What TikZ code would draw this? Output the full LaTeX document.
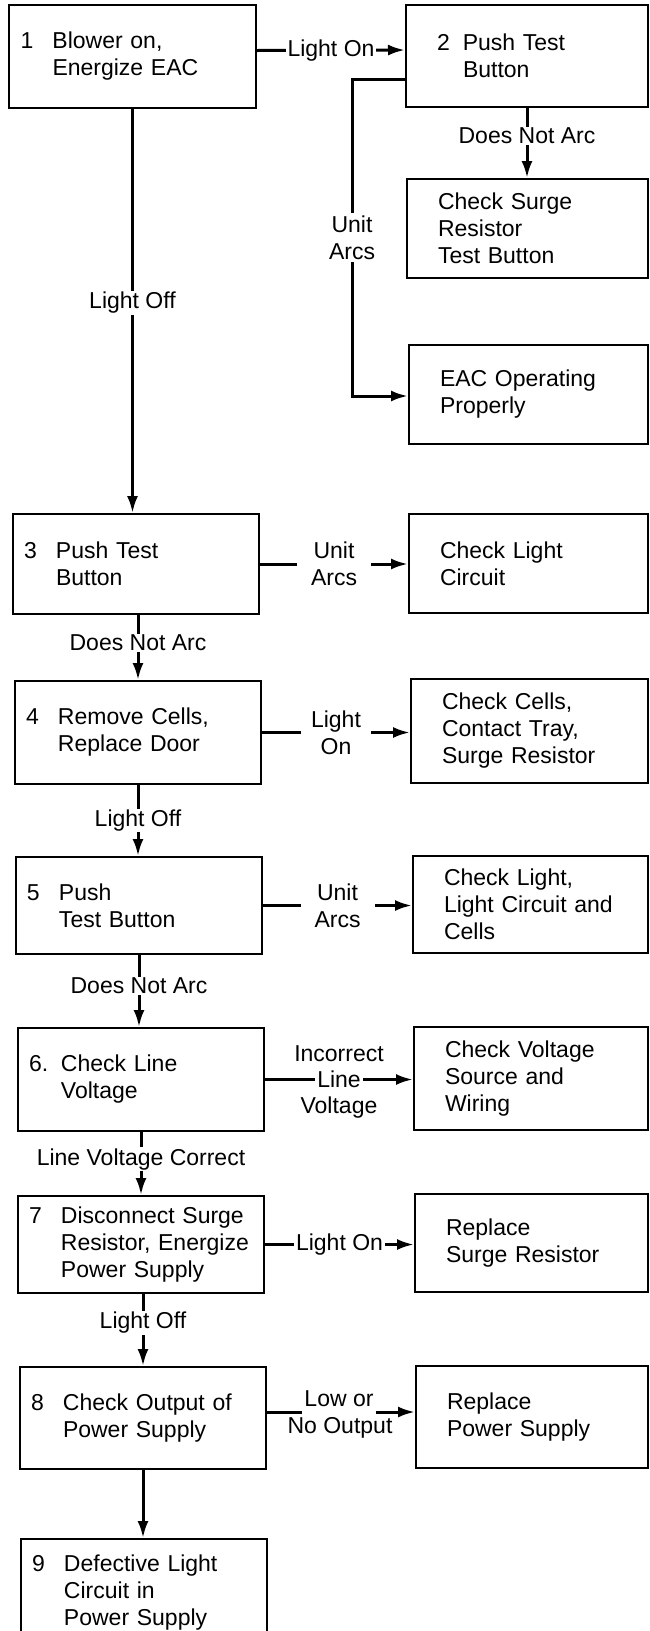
\documentclass[tikz,border=0pt]{standalone}
\usepackage{fontspec}
\setmainfont{Liberation Sans}
\usetikzlibrary{arrows.meta,calc}
\newcommand{\nb}[1]{\makebox[32pt][l]{#1}}

\begin{document}
\begin{tikzpicture}[x=1pt,y=1pt,yscale=-1,xscale=1,
  font=\fontsize{23}{27}\selectfont,
  lbox/.style={draw,line width=2pt,anchor=north west,align=left,inner xsep=11pt,inner ysep=0pt,text width=224pt},
  rbox/.style={lbox,inner xsep=31pt},
  link/.style={line width=3pt,-{Latex[length=17pt,width=11pt]}},
  lbl/.style={fill=white,inner xsep=2pt,inner ysep=1pt,align=center},
  txt/.style={inner sep=2pt,align=center}]

\useasboundingbox (0,0) rectangle (649,1631);

% left column
\node[lbox,minimum width=247pt,minimum height=103pt] (b1) at (8,4) {\nb{1}Blower on,\\\nb{}Energize EAC};
\node[lbox,minimum width=246pt,minimum height=100pt] (b3) at (12,513) {\nb{3}Push Test\\\nb{}Button};
\node[lbox,minimum width=246pt,minimum height=103pt] (b4) at (14,680) {\nb{4}Remove Cells,\\\nb{}Replace Door};
\node[lbox,minimum width=246pt,minimum height=97pt] (b5) at (15,856) {\nb{5}Push\\\nb{}Test Button};
\node[lbox,minimum width=245pt,minimum height=103pt] (b6) at (17,1027) {\nb{6.}Check Line\\\nb{}Voltage};
\node[lbox,minimum width=246pt,minimum height=97pt] (b7) at (17,1195) {\nb{7}Disconnect Surge\\\nb{}Resistor, Energize\\\nb{}Power Supply};
\node[lbox,minimum width=246pt,minimum height=102pt] (b8) at (19,1366) {\nb{8}Check Output of\\\nb{}Power Supply};
\node[lbox,minimum width=245pt,minimum height=107pt] (b9) at (20,1538) {\nb{9}Defective Light\\\nb{}Circuit in\\\nb{}Power Supply};

% right column
\node[rbox,text width=180pt,minimum width=242pt,minimum height=102pt] (b2) at (405,4) {2\hspace{13pt}Push Test\\\hspace{26pt}Button};
\node[rbox,text width=179pt,minimum width=241pt,minimum height=99pt] (sr) at (406,178) {Check Surge\\Resistor\\Test Button};
\node[rbox,text width=177pt,minimum width=239pt,minimum height=99pt] (eac) at (408,344) {EAC Operating\\Properly};
\node[rbox,text width=177pt,minimum width=239pt,minimum height=99pt] (lc) at (408,513) {Check Light\\Circuit};
\node[rbox,text width=175pt,minimum width=237pt,minimum height=104pt] (cc) at (410,678) {Check Cells,\\Contact Tray,\\Surge Resistor};
\node[rbox,text width=173pt,minimum width=235pt,minimum height=97pt] (cl) at (412,855) {Check Light,\\Light Circuit and\\Cells};
\node[rbox,text width=172pt,minimum width=234pt,minimum height=103pt] (cv) at (413,1026) {Check Voltage\\Source and\\Wiring};
\node[rbox,text width=171pt,minimum width=233pt,minimum height=98pt] (rs) at (414,1193) {Replace\\Surge Resistor};
\node[rbox,text width=170pt,minimum width=232pt,minimum height=102pt] (rp) at (415,1365) {Replace\\Power Supply};

% top branch
\draw[link] ($(b1.east)+(0,-6)$) -- node[lbl] (lon1) {Light On} ($(b2.west)+(0,-6)$);
\draw[link] (b2.south) -- node[lbl,pos=0.4] (dna1) {Does Not Arc} (b2.south |- sr.north);
\coordinate (ua1) at (352,79);
\coordinate (ua2) at (352,396);
\draw[link] (ua1 -| b2.west) -- (ua1) -- node[lbl,inner ysep=3pt] (ua) {Unit\\Arcs} (ua2) -- (ua2 -| eac.west);
\draw[link] (b1.south) -- node[lbl,pos=0.48] (lf1) {Light Off} (b1.south |- b3.north);

% main column
\draw[link] (b3.east) -- node[lbl,inner xsep=14pt] (ua3) {Unit\\Arcs} (b3.east -| lc.west);
\draw[link] (b4.north |- b3.south) -- node[lbl,pos=0.43] (dna3) {Does Not Arc} (b4.north);
\draw[link] (b4.east) -- node[lbl,inner xsep=10pt] (lon4) {Light\\On} (b4.east -| cc.west);
\draw[link] (b4.south) -- node[lbl] (lf4) {Light Off} (b4.south |- b5.north);
\draw[link] (b5.east) -- node[lbl,inner xsep=14pt] (ua5) {Unit\\Arcs} (b5.east -| cl.west);
\draw[link] (b5.south) -- node[lbl,pos=0.43] (dna5) {Does Not Arc} (b5.south |- b6.north);
\draw[link] (b6.east) -- node[lbl] (ln) {Line} (b6.east -| cv.west);
\node[txt,anchor=base] (inc) at ($(ln.base)+(0,-26)$) {Incorrect};
\node[txt,anchor=base] (vlt) at ($(ln.base)+(0,26)$) {Voltage};
\draw[link] (b6.south) -- node[lbl,pos=0.43] (lvc) {Line Voltage Correct} (b6.south |- b7.north);
\draw[link] (b7.east) -- node[lbl] (lon7) {Light On} (b7.east -| rs.west);
\draw[link] (b8.north |- b7.south) -- node[lbl,pos=0.4] (lf7) {Light Off} (b8.north);
\coordinate (lw) at (0,1412);
\node[txt] (low) at (339,1399) {Low or};
\node[txt] (noout) at (340,1428) {No Output};
\draw[line width=3pt] (lw -| b8.east) -- (lw -| low.west);
\draw[link] (lw -| low.east) -- (lw -| rp.west);
\draw[link] (b8.south) -- (b8.south |- b9.north);

\end{tikzpicture}
\end{document}
